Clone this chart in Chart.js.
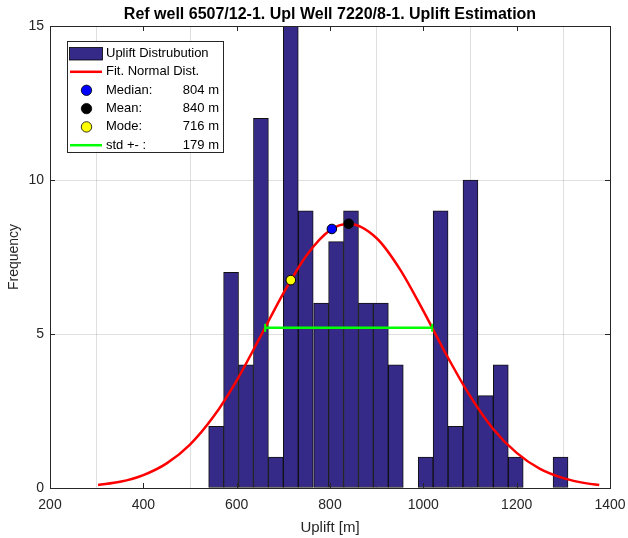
<!DOCTYPE html>
<html>
<head>
<meta charset="utf-8">
<script src="https://cdn.jsdelivr.net/npm/chart.js@4/dist/chart.umd.min.js"></script>
<style>
  html, body { margin: 0; padding: 0; background: #ffffff; }
  #wrap { width: 628px; height: 538px; position: relative; }
</style>
</head>
<body>
<div id="wrap"><canvas id="c" width="628" height="538"></canvas></div>
<script>
// ---- Data ----
const titleText = 'Ref well 6507/12-1. Upl Well 7220/8-1. Uplift Estimation';
const xTicks = [200, 400, 600, 800, 1000, 1200, 1400];
const yTicks = [0, 5, 10, 15];

// histogram bin centres (m) and counts
const binCenters = [556, 588, 620, 652, 684, 716, 748, 781, 813, 845, 877, 909,
                    941, 973, 1005, 1037, 1069, 1101, 1134, 1166, 1198, 1230, 1262, 1294];
const binCounts  = [2, 7, 4, 12, 1, 15, 9, 6, 8, 9, 6, 6,
                    4, 0, 1, 9, 2, 10, 3, 4, 1, 0, 0, 1];

// fitted normal curve
const curveX = [303, 350, 400, 450, 500, 550, 600, 650, 700, 750, 800, 840,
                900, 950, 1000, 1050, 1100, 1150, 1200, 1250, 1300, 1350, 1377];
const curveY = [0.10, 0.20, 0.42, 0.80, 1.41, 2.31, 3.49, 4.89, 6.32, 7.56, 8.37, 8.58,
                8.11, 7.10, 5.75, 4.31, 2.99, 1.91, 1.14, 0.62, 0.32, 0.15, 0.10];

// statistics markers
const statLabels = ['Median:', 'Mean:', 'Mode:'];
const statX = [804, 840, 716];
const statY = [8.41, 8.58, 6.75];
const statValues = ['804 m', '840 m', '716 m'];
const statColors = ['#0000ff', '#000000', '#ffff00'];

// std range line
const stdX = [661, 1019];
const stdY = [5.2, 5.2];
const stdValue = '179 m';

// ---- Styling ----
const FONT = '"Liberation Sans", Arial, Helvetica, sans-serif';
const AXIS_COLOR = '#262626';
const BAR_COLOR = '#352a87';

const plotBox = {
  id: 'plotBox',
  afterDraw(chart) {
    const ctx = chart.ctx;
    const a = chart.chartArea;
    const xs = chart.scales.x, ys = chart.scales.y;
    ctx.save();
    // title centred over the plot box
    ctx.fillStyle = '#000000';
    ctx.font = 'bold 16px ' + FONT;
    ctx.textAlign = 'center';
    ctx.textBaseline = 'middle';
    ctx.fillText(titleText, (a.left + a.right) / 2, 14.5);

    ctx.strokeStyle = AXIS_COLOR;
    ctx.lineWidth = 1;
    ctx.beginPath();
    xTicks.forEach(v => {
      const px = Math.round(xs.getPixelForValue(v)) + 0.5;
      ctx.moveTo(px, a.bottom); ctx.lineTo(px, a.bottom - 5);
      ctx.moveTo(px, a.top); ctx.lineTo(px, a.top + 5);
    });
    yTicks.forEach(v => {
      const py = Math.round(ys.getPixelForValue(v)) + 0.5;
      ctx.moveTo(a.left, py); ctx.lineTo(a.left + 5, py);
      ctx.moveTo(a.right, py); ctx.lineTo(a.right - 5, py);
    });
    ctx.stroke();
    ctx.strokeRect(Math.round(a.left) + 0.5, Math.round(a.top) + 0.5,
                   Math.round(a.right - a.left), Math.round(a.bottom - a.top));

    // legend
    const bx = 67.5, by = 41.5, bw = 156, bh = 111;
    ctx.fillStyle = '#ffffff';
    ctx.fillRect(bx, by, bw, bh);
    ctx.strokeStyle = AXIS_COLOR;
    ctx.strokeRect(bx, by, bw, bh);
    const rowY = [53.5, 71.8, 90.3, 108.6, 126.9, 145.2];
    const sx0 = 70, sx1 = 102, sxm = 86.5;
    ctx.fillStyle = BAR_COLOR;
    ctx.fillRect(69.5, rowY[0] - 6, 33, 12.5);
    ctx.strokeStyle = '#000000';
    ctx.lineWidth = 0.8;
    ctx.strokeRect(69.5, rowY[0] - 6, 33, 12.5);
    ctx.strokeStyle = '#ff0000'; ctx.lineWidth = 2.5;
    ctx.beginPath(); ctx.moveTo(sx0, rowY[1]); ctx.lineTo(sx1, rowY[1]); ctx.stroke();
    for (let i = 0; i < 3; i++) {
      ctx.beginPath(); ctx.arc(sxm, rowY[2 + i], 5.2, 0, Math.PI * 2);
      ctx.fillStyle = statColors[i]; ctx.fill();
      ctx.strokeStyle = '#000000'; ctx.lineWidth = 0.8; ctx.stroke();
    }
    ctx.strokeStyle = '#00ff00'; ctx.lineWidth = 2.5;
    ctx.beginPath(); ctx.moveTo(sx0, rowY[5]); ctx.lineTo(sx1, rowY[5]); ctx.stroke();
    ctx.fillStyle = '#000000';
    ctx.font = '13px ' + FONT;
    ctx.textBaseline = 'middle';
    ctx.textAlign = 'left';
    ctx.fillText('Uplift Distrubution', 106, rowY[0]);
    ctx.fillText('Fit. Normal Dist.', 106, rowY[1]);
    for (let i = 0; i < 3; i++) ctx.fillText(statLabels[i], 106, rowY[2 + i]);
    ctx.fillText('std +- :', 106, rowY[5]);
    ctx.textAlign = 'right';
    for (let i = 0; i < 3; i++) ctx.fillText(statValues[i], 219, rowY[2 + i]);
    ctx.fillText(stdValue, 219, rowY[5]);
    ctx.restore();
  }
};

new Chart(document.getElementById('c'), {
  type: 'bar',
  data: {
    datasets: [
      {
        type: 'scatter', label: 'Median',
        data: [{x: statX[0], y: statY[0]}],
        backgroundColor: statColors[0], borderColor: '#000000', borderWidth: 1,
        pointRadius: 4.8, order: 1
      },
      {
        type: 'scatter', label: 'Mean',
        data: [{x: statX[1], y: statY[1]}],
        backgroundColor: statColors[1], borderColor: '#000000', borderWidth: 1,
        pointRadius: 4.8, order: 1
      },
      {
        type: 'scatter', label: 'Mode',
        data: [{x: statX[2], y: statY[2]}],
        backgroundColor: statColors[2], borderColor: '#000000', borderWidth: 1,
        pointRadius: 4.8, order: 1
      },
      {
        type: 'line', label: 'std',
        data: stdX.map((x, i) => ({x: x, y: stdY[i]})),
        borderColor: '#00ff00', backgroundColor: '#00ff00', borderWidth: 2.5,
        pointStyle: 'line', rotation: 90, pointRadius: 4, pointBorderWidth: 2,
        pointBorderColor: '#00ff00', fill: false, order: 2
      },
      {
        type: 'line', label: 'Fit. Normal Dist.',
        data: curveX.map((x, i) => ({x: x, y: curveY[i]})),
        borderColor: '#ff0000', borderWidth: 2.5, pointRadius: 0,
        cubicInterpolationMode: 'monotone', fill: false, order: 3
      },
      {
        type: 'bar', label: 'Uplift Distrubution',
        data: binCenters.map((x, i) => ({x: x, y: binCounts[i]})),
        backgroundColor: BAR_COLOR, borderColor: '#111111', borderWidth: 1,
        borderSkipped: false,
        barPercentage: 1.0, categoryPercentage: 1.0, order: 4
      }
    ]
  },
  options: {
    responsive: false,
    animation: false,
    events: [],
    layout: { padding: { left: 0, right: 18, top: 26, bottom: 0 } },
    plugins: {
      legend: { display: false },
      tooltip: { enabled: false },
      title: { display: false }
    },
    scales: {
      x: {
        type: 'linear', min: 200, max: 1400, offset: false,
        afterFit(s) { s.height = 50; s.paddingRight = 0; s.paddingLeft = 0; },
        afterBuildTicks(s) { s.ticks = xTicks.map(v => ({value: v})); },
        grid: { color: 'rgba(38,38,38,0.15)', drawTicks: false },
        border: { display: false },
        ticks: { color: AXIS_COLOR, font: { family: FONT, size: 14 }, padding: 9, maxRotation: 0,
                 callback: v => String(v) },
        title: { display: true, text: 'Uplift [m]', color: AXIS_COLOR,
                 font: { family: FONT, size: 15 }, padding: { top: 0, bottom: 1 } }
      },
      y: {
        min: 0, max: 15,
        afterFit(s) { s.width = 50; s.paddingTop = 0; s.paddingBottom = 0; },
        afterBuildTicks(s) { s.ticks = yTicks.map(v => ({value: v})); },
        grid: { color: 'rgba(38,38,38,0.15)', drawTicks: false },
        border: { display: false },
        ticks: { color: AXIS_COLOR, font: { family: FONT, size: 14 }, padding: 6,
                 callback: v => String(v) },
        title: { display: true, text: 'Frequency', color: AXIS_COLOR,
                 font: { family: FONT, size: 14 }, padding: { top: 6, bottom: 0 } }
      }
    }
  },
  plugins: [plotBox]
});
</script>
</body>
</html>
